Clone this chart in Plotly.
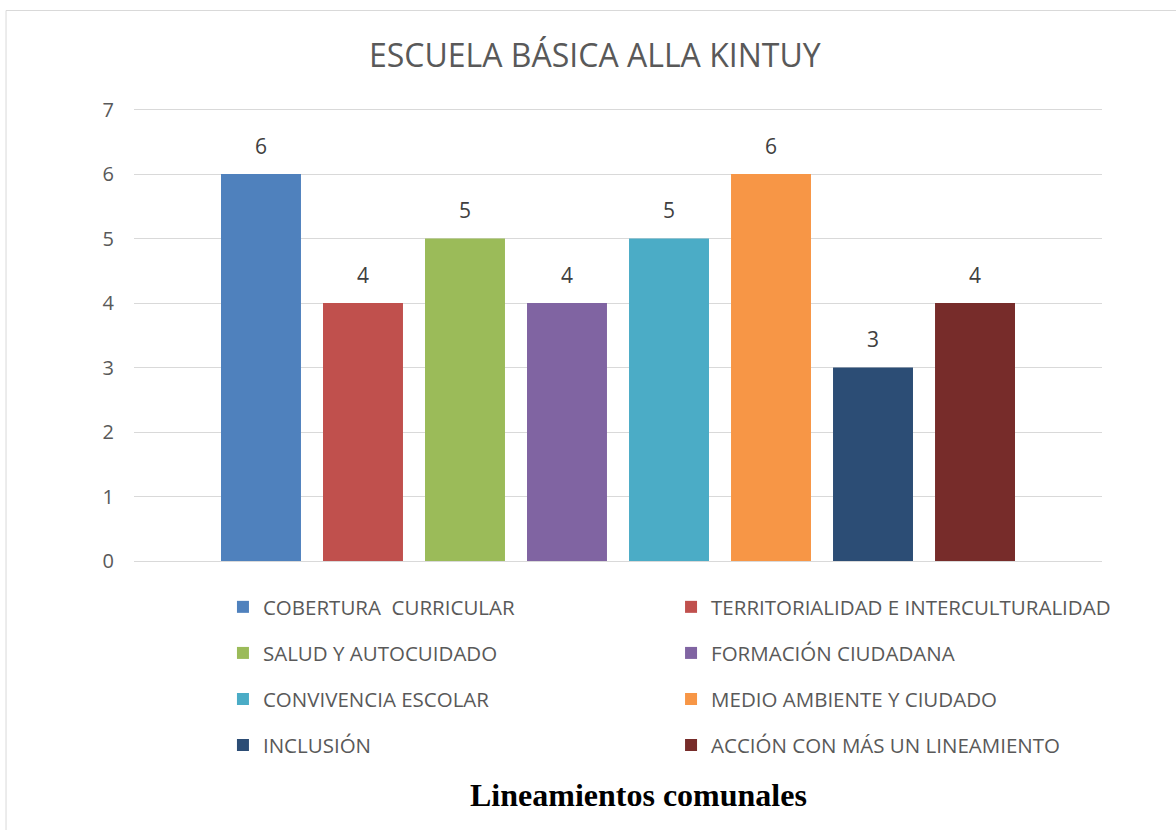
import plotly.graph_objects as go

categoria = ["Lineamientos comunales"]
series = [
    "COBERTURA  CURRICULAR",
    "TERRITORIALIDAD E INTERCULTURALIDAD",
    "SALUD Y AUTOCUIDADO",
    "FORMACIÓN CIUDADANA",
    "CONVIVENCIA ESCOLAR",
    "MEDIO AMBIENTE Y CIUDADO",
    "INCLUSIÓN",
    "ACCIÓN CON MÁS UN LINEAMIENTO",
]
valores = [6, 4, 5, 4, 5, 6, 3, 4]
colores = ["#4F81BD", "#C0504D", "#9BBB59", "#8064A2",
           "#4BACC6", "#F79646", "#2C4D75", "#772C2A"]
y_ticks = [0, 1, 2, 3, 4, 5, 6, 7]

FONT = "Open Sans"
GREY = "#595959"

# legend slot positions (paper coords), two columns x four rows
leg_x = [0.0919, 0.5548]
leg_y = [-0.1016, -0.2033, -0.305, -0.4065]

fig = go.Figure()
layout_legends = {}
for i, (name, val, col) in enumerate(zip(series, valores, colores)):
    lname = "legend" if i == 0 else f"legend{i+1}"
    fig.add_trace(go.Bar(
        x=categoria, y=[val], name=name,
        marker=dict(color=col, line=dict(width=0)),
        text=[val],
        texttemplate="<span style='font-size:21px'>%{y}</span><br> ",
        textposition="outside",
        textfont=dict(family=FONT, size=11, color="#404040"),
        constraintext="none",
        cliponaxis=False,
        legend=lname,
        hoverinfo="name+y",
    ))
    layout_legends[lname] = dict(
        x=leg_x[i % 2], y=leg_y[i // 2],
        xanchor="left", yanchor="middle",
        bgcolor="rgba(0,0,0,0)",
        font=dict(family=FONT, size=20.5, color=GREY),
    )

fig.update_layout(
    width=1176, height=830,
    margin=dict(l=134, r=74, t=108.4, b=269),
    paper_bgcolor="white", plot_bgcolor="white",
    barmode="group", bargap=0.157, bargroupgap=0.216,
    font=dict(family=FONT, color=GREY),
    showlegend=True,
    **layout_legends,
)
fig.update_xaxes(showticklabels=False, showgrid=False, showline=False,
                 zeroline=False, ticks="")
fig.update_yaxes(range=[0, 7.025], tickvals=y_ticks, showgrid=True,
                 gridcolor="#d9d9d9", gridwidth=1, zeroline=True,
                 zerolinecolor="#d9d9d9", zerolinewidth=1, showline=False,
                 tickfont=dict(family=FONT, size=20, color=GREY),
                 ticks="", ticklabelstandoff=19)

fig.add_annotation(text="ESCUELA BÁSICA ALLA KINTUY", xref="paper", yref="paper",
                   x=0.476, y=1.118, xanchor="center", yanchor="middle",
                   showarrow=False, font=dict(family=FONT, size=32, color=GREY))
fig.add_annotation(text="<b>Lineamientos comunales</b>", xref="paper", yref="paper",
                   x=0.5207, y=-0.517, xanchor="center", yanchor="middle",
                   showarrow=False,
                   font=dict(family="Liberation Serif", size=32, color="black"))

fig.add_shape(type="rect", xref="paper", yref="paper",
              x0=-0.1322, x1=1.0806, y0=-0.62, y1=1.2152,
              line=dict(color="#d9d9d9", width=1), layer="below")

fig.write_html("out.html", config={"displayModeBar": False},
               post_script="document.body.style.margin='0';document.body.style.overflow='hidden';")
